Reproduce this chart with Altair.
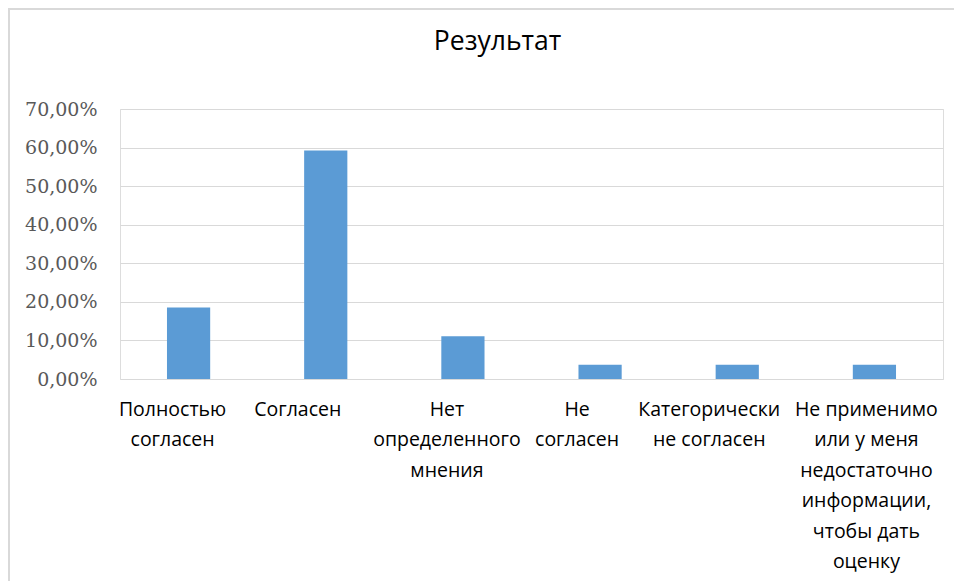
import altair as alt
import pandas as pd

categories = [
    "Полностью\nсогласен",
    "Согласен",
    "Нет\nопределенного\nмнения",
    "Не\nсогласен",
    "Категорически\nне согласен",
    "Не применимо\nили у меня\nнедостаточно\nинформации,\nчтобы дать\nоценку",
]
shares = [0.1852, 0.5926, 0.1111, 0.0370, 0.0370, 0.0370]
y_ticks = [0.0, 0.1, 0.2, 0.3, 0.4, 0.5, 0.6, 0.7]
title_text = ["Результат"]

df = pd.DataFrame({"cat": categories, "share": shares})

label_shift = {
    "condition": [
        {"test": "round(datum.index*5) == 0", "value": -16},
        {"test": "round(datum.index*5) == 1", "value": -28},
        {"test": "round(datum.index*5) == 2", "value": -16},
        {"test": "round(datum.index*5) == 3", "value": -23},
        {"test": "round(datum.index*5) == 4", "value": -28},
    ],
    "value": -8,
}

bars = alt.Chart(df).mark_bar(color="#5b9bd5").encode(
    x=alt.X(
        "cat:N",
        sort=categories,
        title=None,
        scale=alt.Scale(paddingInner=0.685, paddingOuter=0.3425),
        axis=alt.Axis(
            labelAngle=0,
            labelExpr="split(datum.label, '\\n')",
            labelFont="Open Sans",
            labelFontSize=19.5,
            labelColor="#000000",
            labelLineHeight=30.5,
            labelPadding=21,
            labelOffset=label_shift,
            labelLimit=300,
            ticks=False,
            domain=False,
            grid=False,
            labelBaseline="top",
        ),
    ),
    y=alt.Y(
        "share:Q",
        title=None,
        scale=alt.Scale(domain=[0, 0.7], nice=False),
        axis=alt.Axis(
            values=y_ticks,
            labelExpr="replace(format(datum.value, '.2%'), '.', ',')",
            labelFont="DejaVu Serif",
            labelFontSize=19,
            labelColor="#595959",
            labelPadding=23,
            ticks=False,
            domain=False,
            grid=True,
            gridColor="#d9d9d9",
            gridWidth=1,
        ),
    ),
)

title_mark = alt.Chart(pd.DataFrame({"t": title_text})).mark_text(
    font="Open Sans", fontSize=26.5, color="#000000", align="center", baseline="alphabetic"
).encode(text="t:N", x=alt.value(377.5), y=alt.value(-59))

border_top = alt.Chart(df).mark_rule(color="#d9d9d9", strokeWidth=2).encode(
    x=alt.value(-113), x2=alt.value(840), y=alt.value(-100)
)
border_left = alt.Chart(df).mark_rule(color="#d9d9d9", strokeWidth=2).encode(
    x=alt.value(-111), y=alt.value(-101), y2=alt.value(490)
)

chart = (
    alt.layer(bars, title_mark, border_top, border_left)
    .properties(
        width=823,
        height=270,
        autosize=alt.AutoSizeParams(type="none"),
        padding={"left": 112, "top": 101, "right": 11, "bottom": 202},
    )
    .configure_view(stroke=None)
    .configure(background="white")
)

chart.save("out.html", embed_options={"renderer": "svg", "actions": False})
